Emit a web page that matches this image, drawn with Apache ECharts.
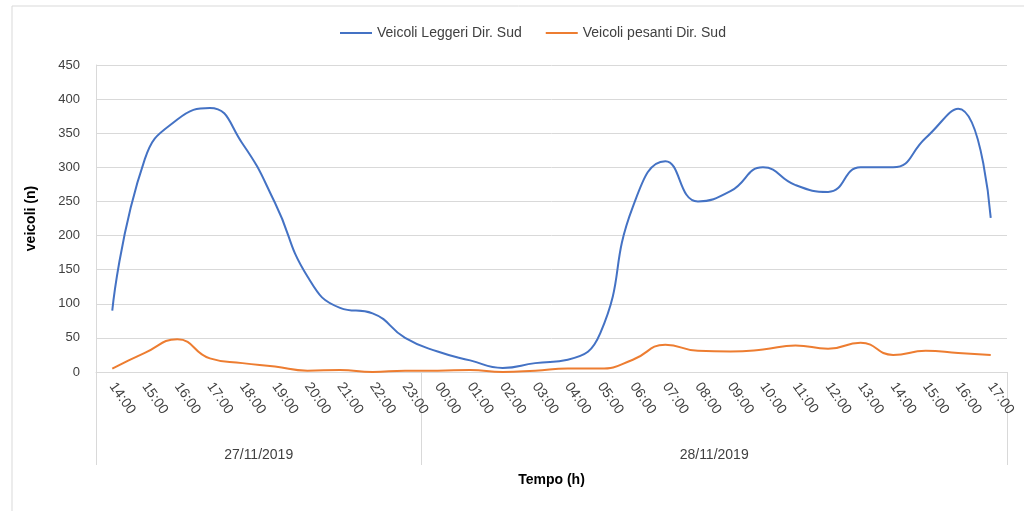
<!DOCTYPE html>
<html>
<head>
<meta charset="utf-8">
<script src="https://cdn.jsdelivr.net/npm/echarts@6/dist/echarts.min.js"></script>
<style>
  html, body { margin: 0; padding: 0; background: #fff; }
  #chart { width: 1024px; height: 511px; }
</style>
</head>
<body>
<div id="chart"></div>
<script>
// categorie orarie (27/11 14:00 -> 28/11 17:00)
var ore = ["14:00", "15:00", "16:00", "17:00", "18:00", "19:00", "20:00", "21:00", "22:00", "23:00",
  "00:00", "01:00", "02:00", "03:00", "04:00", "05:00", "06:00", "07:00", "08:00", "09:00",
  "10:00", "11:00", "12:00", "13:00", "14:00", "15:00", "16:00", "17:00"];
var giorni = ["27/11/2019", "28/11/2019"];
var oreGiorno1 = 10; // 14:00..23:00 sul primo giorno

var leggeri = [90, 312, 370, 387, 335, 248, 140, 94, 86, 50,
  30, 17, 6, 13, 18, 57, 242, 309, 250, 265,
  300, 274, 264, 300, 300, 343, 386, 226];
var pesanti = [5, 28, 48, 20, 13, 8, 2, 3, 0, 2,
  2, 3, 0, 2, 5, 5, 18, 40, 31, 30,
  33, 39, 34, 43, 25, 31, 28, 25];

var yTicks = { min: 0, max: 450, interval: 50 };

// asse a "mezze categorie" per le etichette dei giorni
var n = ore.length;
var slot = [];
for (var j = 0; j <= n * 2; j++) slot.push("");
var posGiorno1 = oreGiorno1;            // centro primo gruppo
var posGiorno2 = oreGiorno1 * 2 + (n - oreGiorno1); // centro secondo gruppo
slot[posGiorno1] = giorni[0];
slot[posGiorno2] = giorni[1];
var separatori = [0, oreGiorno1 * 2, n * 2];

var font = "Liberation Sans";
var myChart = echarts.init(document.getElementById("chart"));
var option = {
  animation: false,
  textStyle: { fontFamily: font },
  graphic: [{
    type: "rect",
    shape: { x: 12, y: 6, width: 1030, height: 520 },
    style: { fill: "none", stroke: "#d9d9d9", lineWidth: 1 },
    silent: true
  }],
  legend: {
    top: 21,
    left: 335,
    itemWidth: 32,
    itemHeight: 2,
    itemGap: 24,
    icon: "rect",
    textStyle: { color: "#404040", fontSize: 14, fontFamily: font },
    data: ["Veicoli Leggeri Dir. Sud", "Veicoli pesanti Dir. Sud"]
  },
  grid: { left: 96, right: 17, top: 65, bottom: 139 },
  xAxis: [
    {
      type: "category",
      data: ore,
      boundaryGap: true,
      name: "Tempo (h)",
      nameLocation: "middle",
      nameGap: 101,
      nameTextStyle: { color: "#000", fontWeight: "bold", fontSize: 14 },
      axisLine: { show: true, lineStyle: { color: "#d9d9d9" } },
      axisTick: { show: false },
      axisLabel: {
        interval: 0,
        rotate: -55,
        color: "#404040",
        fontSize: 14,
        margin: 12
      }
    },
    {
      type: "category",
      data: slot,
      boundaryGap: false,
      position: "bottom",
      axisLine: { show: false },
      axisTick: {
        show: true,
        length: 93,
        interval: function (i) { return separatori.indexOf(i) >= 0; },
        lineStyle: { color: "#d9d9d9" }
      },
      axisLabel: {
        interval: function (i) { return i === posGiorno1 || i === posGiorno2; },
        color: "#404040",
        fontSize: 14,
        margin: 76
      }
    }
  ],
  yAxis: {
    type: "value",
    min: yTicks.min,
    max: yTicks.max,
    interval: yTicks.interval,
    name: "veicoli (n)",
    nameLocation: "middle",
    nameGap: 58,
    nameTextStyle: { color: "#000", fontWeight: "bold", fontSize: 14 },
    axisLine: { show: true, lineStyle: { color: "#d9d9d9" } },
    axisTick: { show: false },
    axisLabel: { color: "#404040", fontSize: 13, margin: 16 },
    splitLine: { lineStyle: { color: "#d9d9d9" } }
  },
  series: [
    {
      name: "Veicoli Leggeri Dir. Sud",
      type: "line",
      data: leggeri,
      smooth: true,
      showSymbol: false,
      lineStyle: { color: "#4472C4", width: 2 },
      itemStyle: { color: "#4472C4" }
    },
    {
      name: "Veicoli pesanti Dir. Sud",
      type: "line",
      data: pesanti,
      smooth: true,
      showSymbol: false,
      lineStyle: { color: "#ED7D31", width: 2 },
      itemStyle: { color: "#ED7D31" }
    }
  ]
};
myChart.setOption(option);
</script>
</body>
</html>
